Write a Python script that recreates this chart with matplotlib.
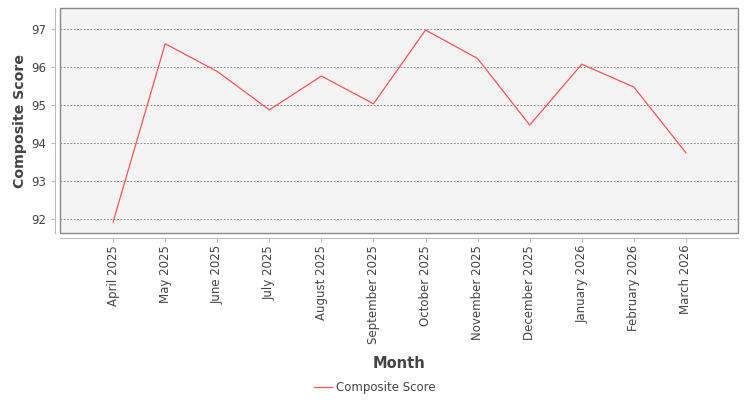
import numpy as np
import matplotlib.pyplot as plt
from matplotlib.patches import Rectangle

months = ["April 2025", "May 2025", "June 2025", "July 2025", "August 2025",
          "September 2025", "October 2025", "November 2025", "December 2025",
          "January 2026", "February 2026", "March 2026"]
scores = [91.92, 96.61, 95.88, 94.87, 95.76, 95.03, 96.97, 96.22, 94.47,
          96.07, 95.47, 93.74]
yticks = [92, 93, 94, 95, 96, 97]

txt = "#444444"
plt.rcParams['font.family'] = ['DejaVu Sans']

fig = plt.figure(figsize=(7.5, 4), dpi=100)
ax = fig.add_axes([60/750, 1 - 233/400, 678/750, 225/400])
ax.set_facecolor("#f4f4f4")

x = np.arange(len(months))
ax.plot(x, scores, color="#ff5555", lw=0.9, label="Composite Score")

ax.set_xlim(-1.02, 12.0)
ax.set_ylim(91.63, 97.55)
ax.set_xticks(x)
ax.set_xticklabels(months)
ax.set_yticks(yticks)
ax.grid(axis="y", color="#777777", ls=(0, (2, 2)), lw=0.6)

for s in ["top", "right"]:
    ax.spines[s].set_visible(False)
for s in ["left", "bottom"]:
    ax.spines[s].set_position(("outward", 3.5))
    ax.spines[s].set_color("#bbbbbb")
    ax.spines[s].set_linewidth(0.8)
ax.add_patch(Rectangle((0, 0), 1, 1, transform=ax.transAxes, fill=False,
                       edgecolor="#888888", lw=1.0, clip_on=False, zorder=5))

ax.tick_params(axis="both", colors="#bbbbbb", labelcolor=txt, labelsize=8.5,
               length=3, width=0.8)
ax.tick_params(axis="x", pad=2, labelrotation=90)

ax.set_xlabel("Month", fontsize=10.5, fontweight="bold", color=txt, labelpad=9)
ax.set_ylabel("Composite Score", fontsize=10.2, fontweight="bold", color=txt, labelpad=3)

fig.legend(loc="lower center", bbox_to_anchor=(0.5, -0.012), frameon=False,
           fontsize=8.5, labelcolor=txt, handlelength=1.5, handletextpad=0.4)

fig.savefig("out.png", dpi=100)
